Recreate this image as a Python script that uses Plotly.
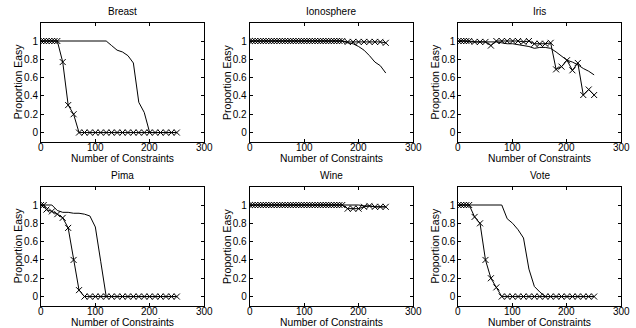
import plotly.graph_objects as go

titles = ["Breast", "Ionosphere", "Iris", "Pima", "Wine", "Vote"]

# plain (no-marker) series, x step 10
x_plain = [0, 10, 20, 30, 40, 50, 60, 70, 80, 90, 100, 110, 120, 130, 140, 150,
           160, 170, 180, 190, 200, 210, 220, 230, 240, 250]
breast_plain = [1, 1, 1, 1, 1, 1, 1, 1, 1, 1, 1, 1, 1, 0.95, 0.90, 0.88,
                0.84, 0.76, 0.33, 0.22, 0, 0, 0, 0, 0, 0]
iono_plain = [1, 1, 1, 1, 1, 1, 1, 1, 1, 1, 1, 1, 1, 1, 1, 1,
              1, 1, 0.98, 0.97, 0.94, 0.90, 0.84, 0.77, 0.73, 0.65]
iris_plain = [1, 1, 0.99, 0.99, 0.99, 0.99, 0.99, 0.99, 0.98, 0.97, 0.97, 0.96, 0.95, 0.94, 0.92, 0.93,
              0.93, 0.92, 0.88, 0.83, 0.79, 0.77, 0.74, 0.70, 0.67, 0.63]
pima_plain = [1, 1, 1, 0.94, 0.92, 0.92, 0.91, 0.91, 0.90, 0.88, 0.76, 0.38, 0, 0, 0, 0,
              0, 0, 0, 0, 0, 0, 0, 0, 0, 0]
wine_plain = [1, 1, 1, 1, 1, 1, 1, 1, 1, 1, 1, 1, 1, 1, 1, 1,
              1, 1, 1, 1, 1, 0.99, 0.99, 0.98, 0.98, 0.98]
vote_plain = [1, 1, 1, 1, 1, 1, 1, 1, 1, 0.85, 0.80, 0.73, 0.64, 0.30, 0.11, 0.05,
              0, 0, 0, 0, 0, 0, 0, 0, 0, 0]

# marked (x) series
x_mark_a = [0, 5, 10, 15, 20, 25, 30, 40, 50, 60, 70, 80, 90, 100, 110, 120, 130, 140,
            150, 160, 170, 180, 190, 200, 210, 220, 230, 240, 250]
breast_mark = [1, 1, 1, 1, 1, 1, 1, 0.77, 0.30, 0.20, 0, 0, 0, 0, 0, 0, 0, 0,
               0, 0, 0, 0, 0, 0, 0, 0, 0, 0, 0]
x_iris_mark = [0, 5, 10, 15, 20, 30, 40, 50, 60, 70, 80, 90, 100, 110, 120, 130, 140,
               150, 160, 170, 180, 190, 200, 210, 220, 230, 240, 250]
iris_mark = [1, 1, 1, 1, 1, 0.99, 0.99, 0.99, 0.95, 1, 1, 1, 1, 1, 0.99, 1, 0.97,
             0.97, 0.97, 0.98, 0.69, 0.72, 0.79, 0.68, 0.76, 0.41, 0.47, 0.41]
x_pima_mark = [0, 5, 10, 20, 30, 40, 50, 60, 70, 80, 90, 100, 110, 120, 130, 140,
               150, 160, 170, 180, 190, 200, 210, 220, 230, 240, 250]
pima_mark = [1, 1, 0.95, 0.93, 0.90, 0.86, 0.75, 0.40, 0.07, 0, 0, 0, 0, 0, 0, 0,
             0, 0, 0, 0, 0, 0, 0, 0, 0, 0, 0]
x_vote_mark = [0, 5, 10, 15, 20, 30, 40, 50, 60, 70, 80, 90, 100, 110, 120, 130, 140,
               150, 160, 170, 180, 190, 200, 210, 220, 230, 240, 250]
vote_mark = [1, 1, 1, 1, 1, 0.87, 0.80, 0.40, 0.20, 0.10, 0, 0, 0, 0, 0, 0, 0,
             0, 0, 0, 0, 0, 0, 0, 0, 0, 0, 0]
x_dense_mark = [0, 5, 10, 15, 20, 25, 30, 35, 40, 45, 50, 55, 60, 65, 70, 75, 80, 85,
                90, 95, 100, 105, 110, 115, 120, 125, 130, 135, 140, 145, 150, 155,
                160, 165, 170, 180, 190, 200, 210, 220, 230, 240, 250]
iono_mark = [1] * 35 + [0.99, 0.99, 0.99, 0.99, 0.99, 0.99, 0.99, 0.98]
wine_mark = [1] * 35 + [0.96, 0.96, 0.96, 0.98, 0.99, 0.98, 0.98, 0.98]

x_ticks = [0, 100, 200, 300]
x_tick_text = ["0", "100", "200", "300"]
y_ticks = [0, 0.2, 0.4, 0.6, 0.8, 1]
y_tick_text = ["0", "0.2", "0.4", "0.6", "0.8", "1"]

plain = [(x_plain, breast_plain), (x_plain, iono_plain), (x_plain, iris_plain),
         (x_plain, pima_plain), (x_plain, wine_plain), (x_plain, vote_plain)]
marked = [(x_mark_a, breast_mark), (x_dense_mark, iono_mark), (x_iris_mark, iris_mark),
          (x_pima_mark, pima_mark), (x_dense_mark, wine_mark), (x_vote_mark, vote_mark)]

W, H = 636, 328
col_px = [(41, 204), (249.7, 413), (458.3, 621.3)]
row_px = [(22.7, 141.7), (186.7, 305.7)]

fig = go.Figure()
FONT = "Liberation Sans, Arial, Helvetica, sans-serif"
layout = dict(width=W, height=H, margin=dict(l=0, r=0, t=0, b=0), autosize=False,
              paper_bgcolor="white", plot_bgcolor="white", showlegend=False,
              font=dict(family=FONT, size=10, color="black"))
annotations = []
for i in range(6):
    r, c = divmod(i, 3)
    n = i + 1
    xa = "x" if n == 1 else f"x{n}"
    ya = "y" if n == 1 else f"y{n}"
    x0, x1 = col_px[c]
    y0, y1 = row_px[r]
    dom_x = [x0 / W, x1 / W]
    dom_y = [1 - y1 / H, 1 - y0 / H]
    px_, py_ = plain[i]
    fig.add_trace(go.Scatter(x=px_, y=py_, mode="lines", xaxis=xa, yaxis=ya,
                             line=dict(color="black", width=1)))
    mx, my = marked[i]
    fig.add_trace(go.Scatter(x=mx, y=my, mode="lines+markers", xaxis=xa, yaxis=ya,
                             line=dict(color="black", width=1),
                             marker=dict(symbol="x-thin", size=6,
                                         line=dict(color="black", width=1))))
    axcommon = dict(showline=True, linecolor="black", linewidth=1, mirror="allticks",
                    ticks="inside", ticklen=3, tickwidth=1, tickcolor="black",
                    showgrid=False, zeroline=False,
                    tickfont=dict(family=FONT, size=10, color="black"))
    layout["xaxis" if n == 1 else f"xaxis{n}"] = dict(
        domain=dom_x, range=[0, 300], tickvals=x_ticks, showticklabels=False,
        anchor=ya, **axcommon)
    layout["yaxis" if n == 1 else f"yaxis{n}"] = dict(
        domain=dom_y, range=[-0.1, 1.2], tickvals=y_ticks, ticktext=y_tick_text,
        anchor=xa, **axcommon)
    # x tick labels placed close under the axis, as in the reference
    for tv, tt in zip(x_ticks, x_tick_text):
        annotations.append(dict(text=tt, x=tv, xref=xa, y=1 - (y1 + 6) / H,
                                yref="paper", showarrow=False, xanchor="center",
                                yanchor="middle", font=dict(family=FONT, size=10)))
    cx = (x0 + x1) / 2 / W
    annotations.append(dict(text=titles[i], x=cx, y=1 - (y0 - 11) / H, xref="paper",
                            yref="paper", showarrow=False, xanchor="center",
                            yanchor="middle", font=dict(family=FONT, size=10)))
    annotations.append(dict(text="Number of Constraints", x=cx, y=1 - (y1 + 17) / H,
                            xref="paper", yref="paper", showarrow=False,
                            xanchor="center", yanchor="middle",
                            font=dict(family=FONT, size=10.3)))
    annotations.append(dict(text="Proportion Easy", x=(x0 - 23) / W,
                            y=1 - (y0 + y1) / 2 / H, xref="paper", yref="paper",
                            showarrow=False, textangle=-90, xanchor="center",
                            yanchor="middle", font=dict(family=FONT, size=10.5)))
layout["annotations"] = annotations
fig.update_layout(**layout)
fig.write_html("out.html", config={"displayModeBar": False, "staticPlot": True},
               post_script="document.body.style.margin='0';document.body.style.overflow='hidden';")
